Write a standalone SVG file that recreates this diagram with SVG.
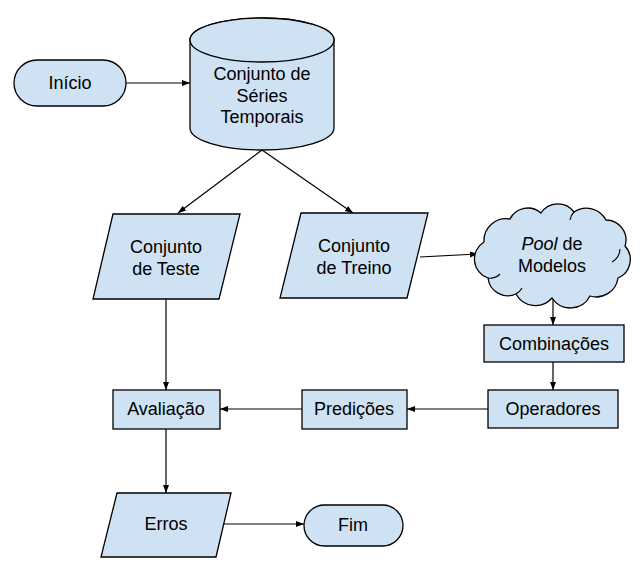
<svg xmlns="http://www.w3.org/2000/svg" width="643" height="564" viewBox="0 0 643 564">
<style>
.s{fill:#cfe2f3;stroke:#000;stroke-width:1.3}
.t{font-family:"Liberation Sans",Arial,sans-serif;font-size:18px;fill:#000;text-anchor:middle}
.c{fill:none;stroke:#000;stroke-width:1.2}
.ic{fill:none;stroke:#000;stroke-width:1.1}
</style>
<defs>
<marker id="a" markerUnits="userSpaceOnUse" markerWidth="8" markerHeight="8" viewBox="0 0 8 8" refX="8" refY="4" orient="auto">
<path d="M0,1 L8,4 L0,7 Z" fill="#000"/>
</marker>
</defs>
<rect width="643" height="564" fill="#fff"/>
<g id="connectors">
<line class="c" x1="126" y1="83" x2="190" y2="83" marker-end="url(#a)"/>
<line class="c" x1="262" y1="150" x2="178" y2="213" marker-end="url(#a)"/>
<line class="c" x1="262" y1="150" x2="353" y2="213" marker-end="url(#a)"/>
<line class="c" x1="420" y1="257" x2="478" y2="254" marker-end="url(#a)"/>
<line class="c" x1="553" y1="298" x2="553" y2="325" marker-end="url(#a)"/>
<line class="c" x1="553" y1="362" x2="553" y2="390" marker-end="url(#a)"/>
<line class="c" x1="488" y1="409" x2="407" y2="409" marker-end="url(#a)"/>
<line class="c" x1="302" y1="409" x2="220" y2="409" marker-end="url(#a)"/>
<line class="c" x1="166" y1="299" x2="166" y2="390" marker-end="url(#a)"/>
<line class="c" x1="166" y1="429" x2="166" y2="493" marker-end="url(#a)"/>
<line class="c" x1="224" y1="524" x2="304" y2="524" marker-end="url(#a)"/>
</g>
<g id="inicio">
<rect class="s" x="14" y="60" width="112" height="46" rx="23"/>
<text class="t" x="70" y="89">Início</text>
</g>
<g id="series">
<path class="s" d="M190,40 V128 A72,22 0 0 0 334,128 V40 A72,22 0 0 0 190,40 Z"/>
<ellipse class="s" cx="262" cy="40" rx="72" ry="22"/>
<text class="t" x="262" y="80">Conjunto de</text>
<text class="t" x="262" y="102">Séries</text>
<text class="t" x="262" y="123">Temporais</text>
</g>
<g id="teste">
<polygon class="s" points="113,214 240,214 219,299 93,299"/>
<text class="t" x="166" y="253">Conjunto</text>
<text class="t" x="166" y="275">de Teste</text>
</g>
<g id="treino">
<polygon class="s" points="301,213 428,213 407,298 280,298"/>
<text class="t" x="354" y="252">Conjunto</text>
<text class="t" x="354" y="274">de Treino</text>
</g>
<g id="pool">
<path class="s" d="M488,278 A20,20 0 0 1 484,242 A22,22 0 0 1 510,219 A20,20 0 0 1 541,213 A20,20 0 0 1 574,212 A22,22 0 0 1 606,220 A20,20 0 0 1 625,246 A20,20 0 0 1 618,278 A22,22 0 0 1 590,296 A22,22 0 0 1 552,298 A22,22 0 0 1 516,294 A20,20 0 0 1 488,278 Z"/>
<path class="ic" d="M488,278 A14,14 0 0 0 500,274"/>
<path class="ic" d="M612,262 A16,16 0 0 0 620,249"/>
<path class="ic" d="M516,294 A16,16 0 0 0 522,288"/>
<path class="ic" d="M574,212 A14,14 0 0 0 570,220"/>
<text class="t" x="552" y="250"><tspan font-style="italic">Pool</tspan> de</text>
<text class="t" x="552" y="272">Modelos</text>
</g>
<g id="combinacoes">
<rect class="s" x="484" y="325" width="140" height="37"/>
<text class="t" x="554" y="350">Combinações</text>
</g>
<g id="operadores">
<rect class="s" x="488" y="390" width="130" height="38"/>
<text class="t" x="553" y="415">Operadores</text>
</g>
<g id="predicoes">
<rect class="s" x="302" y="390" width="105" height="39"/>
<text class="t" x="354" y="415">Predições</text>
</g>
<g id="avaliacao">
<rect class="s" x="113" y="390" width="107" height="39"/>
<text class="t" x="166" y="415">Avaliação</text>
</g>
<g id="erros">
<polygon class="s" points="117,493 231,493 216,557 101,557"/>
<text class="t" x="166" y="530">Erros</text>
</g>
<g id="fim">
<rect class="s" x="304" y="505" width="99" height="41" rx="20.5"/>
<text class="t" x="353" y="531">Fim</text>
</g>
</svg>
